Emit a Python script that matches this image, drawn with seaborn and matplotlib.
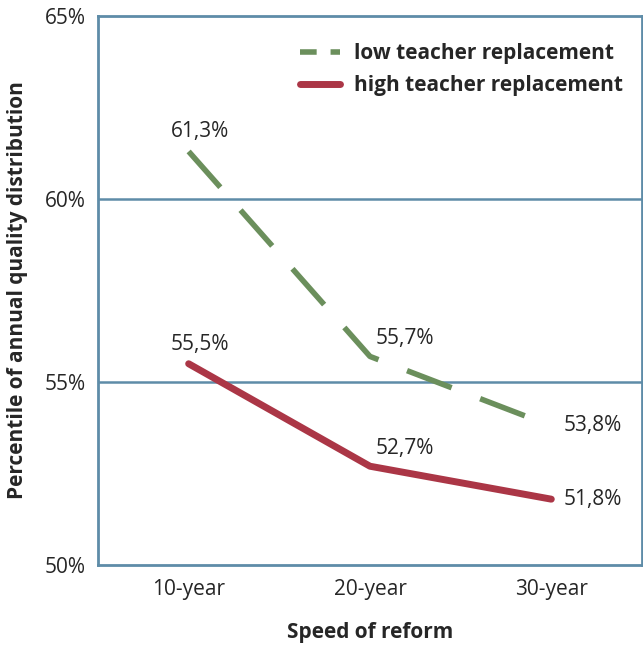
import pandas as pd
import matplotlib.pyplot as plt
from matplotlib.ticker import FixedLocator, FuncFormatter
import seaborn as sns

speeds = ["10-year", "20-year", "30-year"]
low_repl = [61.3, 55.7, 53.8]
high_repl = [55.5, 52.7, 51.8]
series = ["low teacher replacement", "high teacher replacement"]

df = pd.DataFrame({
    "speed": speeds * 2,
    "pct": low_repl + high_repl,
    "group": [series[0]] * 3 + [series[1]] * 3,
})

sns.set_style("white")
plt.rcParams['font.family'] = ['Open Sans', 'DejaVu Sans']
axis_col = "#5e8ca8"
green = "#6b8f5c"
red = "#ab3646"
fs = 15

fig = plt.figure(figsize=(6.43, 6.54), dpi=100)
ax = fig.add_axes([0.1524, 0.136, 0.846, 0.8395])

sns.lineplot(data=df, x="speed", y="pct", hue="group", style="group",
             palette={series[0]: green, series[1]: red},
             dashes={series[0]: (8.6, 5.5), series[1]: ""},
             linewidth=4, ax=ax, sort=False)
widths = {green: 4, red: 5}
for ln in ax.lines:
    ln.set_solid_capstyle("round")
    ln.set_dash_capstyle("butt")
    c = ln.get_color()
    if c in widths:
        ln.set_linewidth(widths[c])

ax.set_xlim(-0.5, 2.5)
ax.set_ylim(50, 65)
ax.set_yticks([50, 55, 60, 65])
ax.yaxis.set_major_formatter(FuncFormatter(lambda v, p: f"{v:.0f}%"))
ax.xaxis.set_minor_locator(FixedLocator([-0.5, 0.5, 1.5, 2.5]))
ax.tick_params(axis="x", which="major", length=0, labelsize=fs, pad=10)
ax.tick_params(axis="x", which="minor", length=7, width=2, color=axis_col, direction="out")
ax.tick_params(axis="y", length=7, width=2, color=axis_col, direction="out", labelsize=fs, pad=2)
ax.set_xticks(range(3))
ax.set_xticklabels(speeds)
for y in [55, 60]:
    ax.axhline(y, color=axis_col, lw=1.8, zorder=0)
for s in ax.spines.values():
    s.set_color(axis_col)
    s.set_linewidth(2)

ax.set_xlabel("Speed of reform", fontsize=fs, fontweight="bold", labelpad=16)
ax.set_ylabel("Percentile of annual quality distribution", fontsize=fs, fontweight="bold", labelpad=12)

# value labels
lab = lambda v: f"{v:.1f}%".replace(".", ",")
offs = [(0.06, 0.25, "center", "bottom"), (0.03, 0.2, "left", "bottom"), (0.07, 0, "left", "center")]
for vals in (low_repl, high_repl):
    for i, v in enumerate(vals):
        dx, dy, ha, va = offs[i]
        ax.text(i + dx, v + dy, lab(v), ha=ha, va=va, fontsize=fs)

leg = ax.legend(loc="upper right", frameon=False, fontsize=fs, handlelength=1.9,
                bbox_to_anchor=(1.0, 0.985), labelspacing=0.55, handletextpad=0.7)
for t in leg.get_texts():
    t.set_fontweight("bold")
for h in leg.get_lines():
    h.set_linewidth(widths.get(h.get_color(), 4))
    if h.get_color() == green:
        h.set_dashes((3, 2.5))

fig.savefig("out.png", dpi=100)
